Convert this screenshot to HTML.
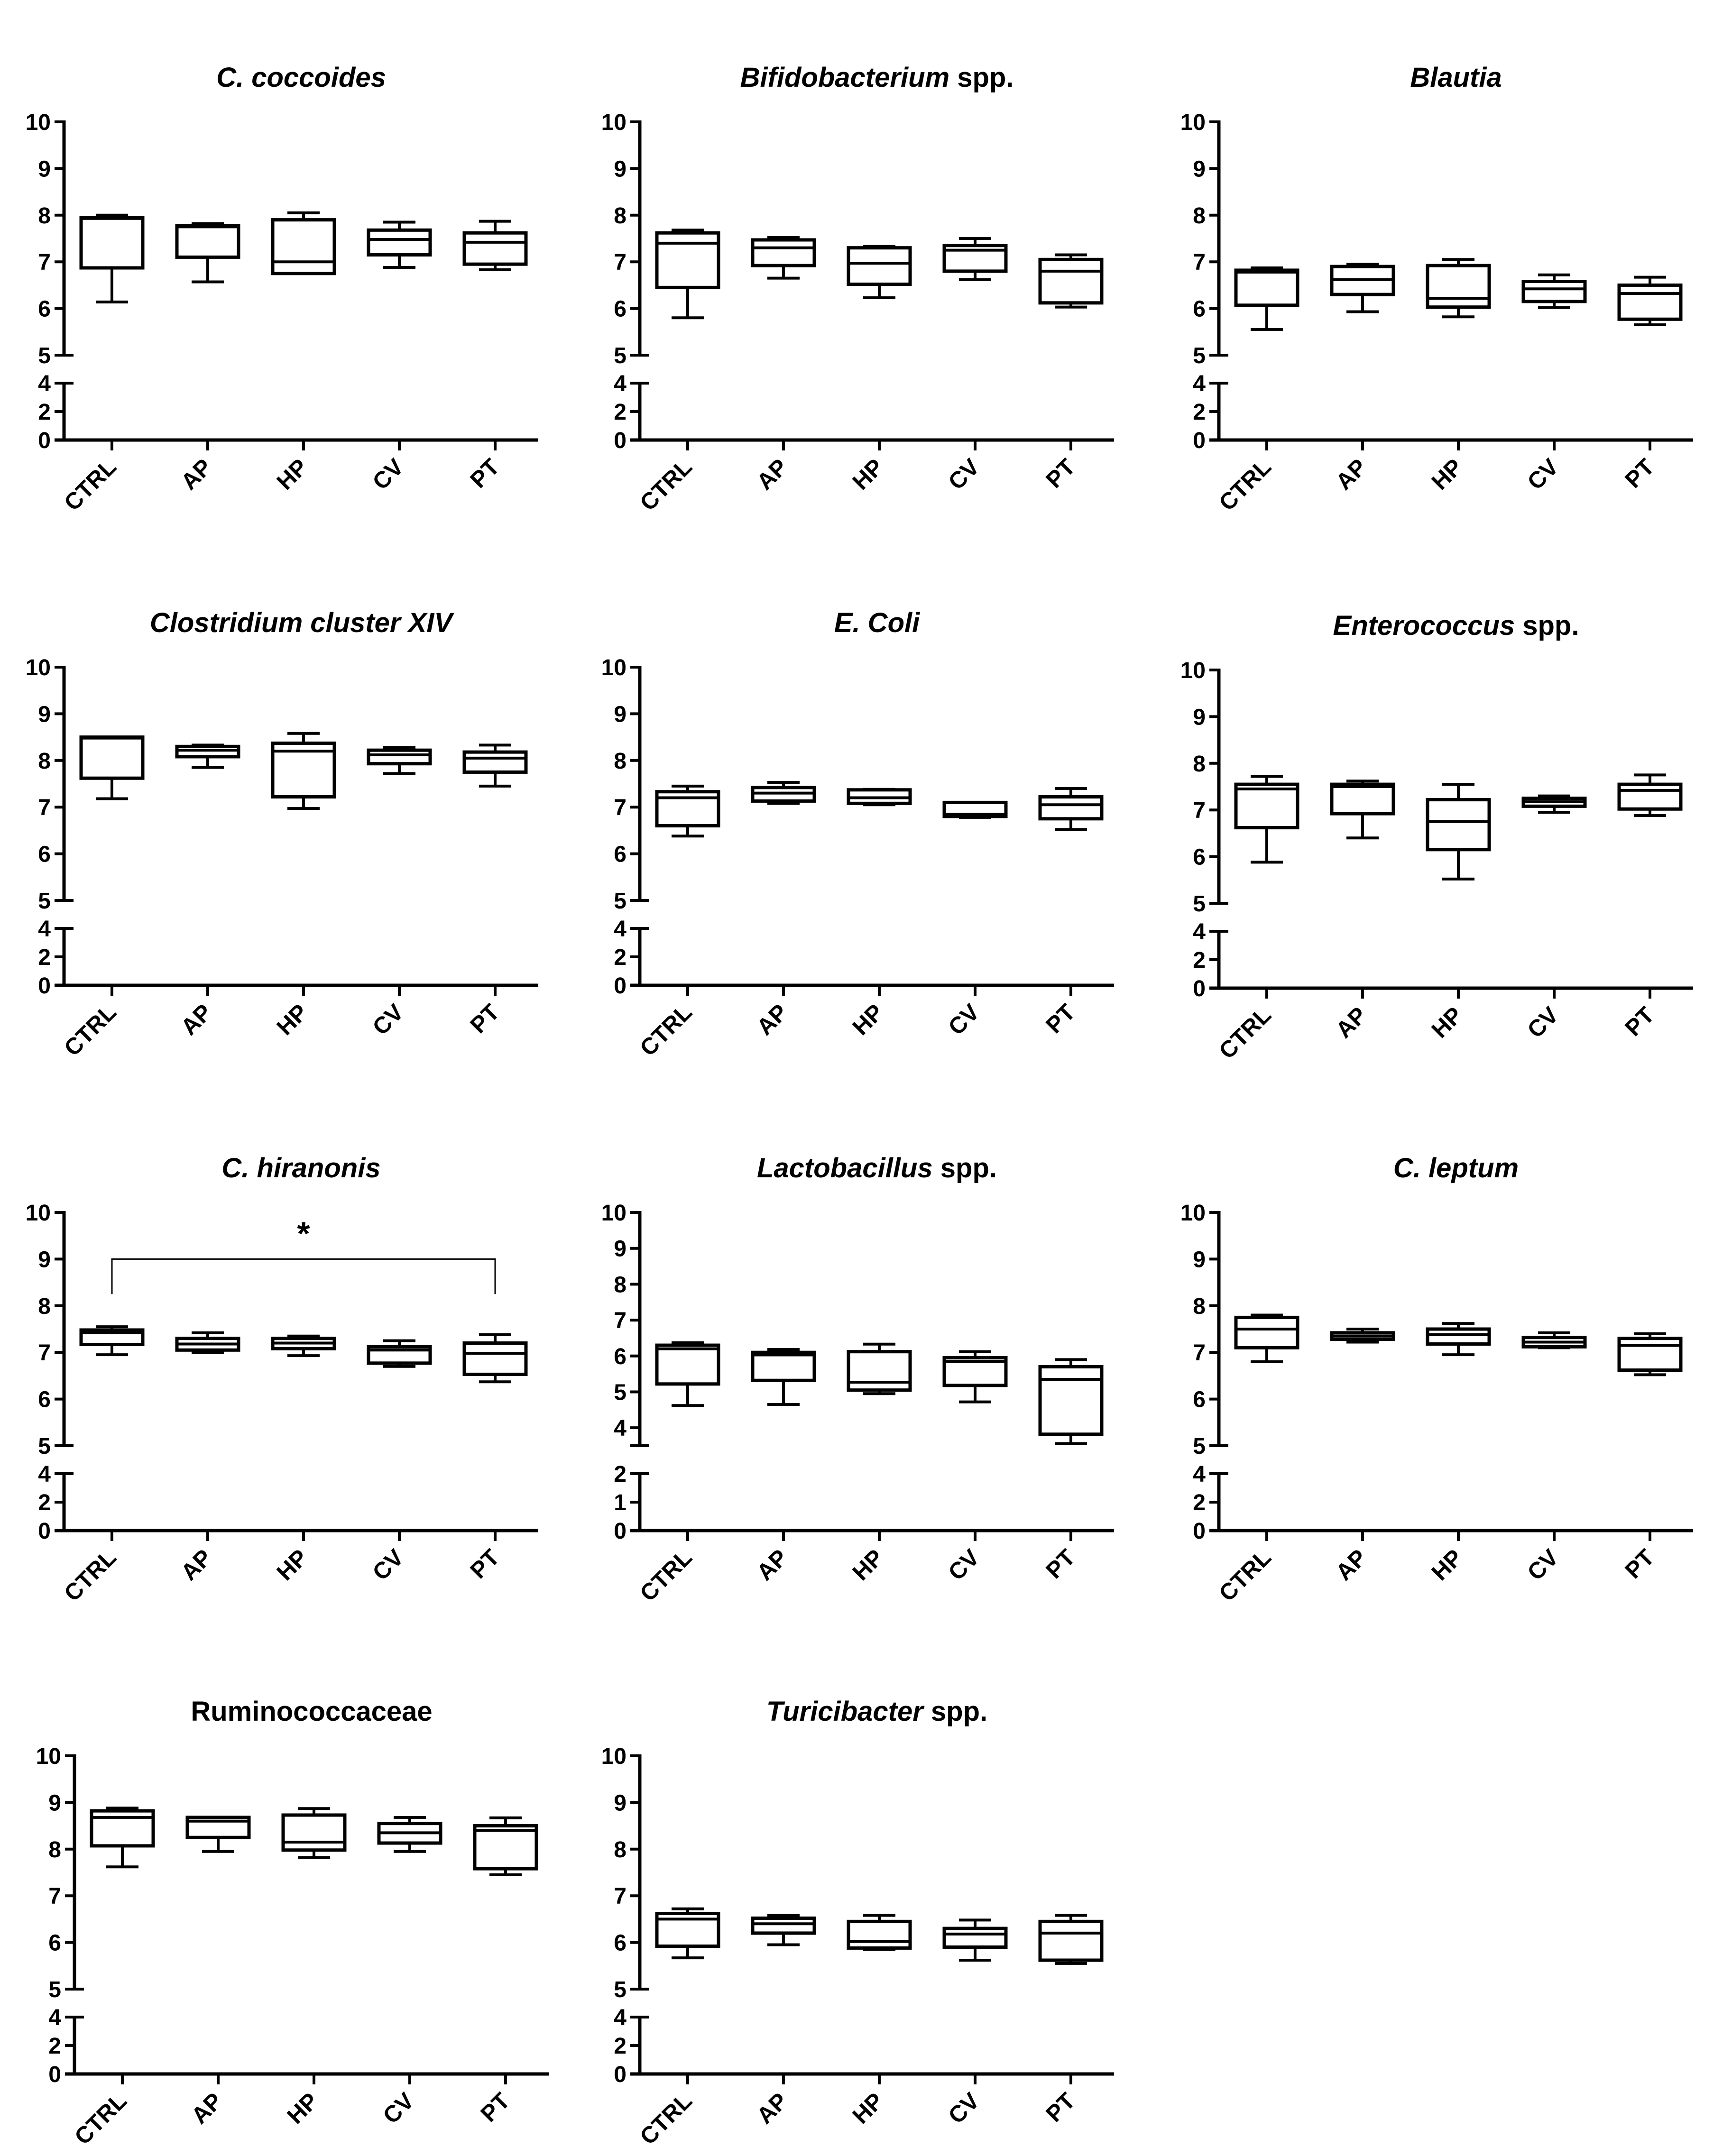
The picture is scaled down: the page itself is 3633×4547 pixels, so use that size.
<!DOCTYPE html>
<html><head><meta charset="utf-8"><style>
html,body{margin:0;padding:0;background:#fff;}
svg{display:block;font-family:"Liberation Sans",Arial,sans-serif;}
</style></head><body>
<svg id="fig" xmlns="http://www.w3.org/2000/svg" width="3633" height="4547" viewBox="0 0 3633 4547"></svg>
<script>
const groups = ["CTRL","AP","HP","CV","PT"];
const titles = [
  ["C. coccoides",""],["Bifidobacterium"," spp."],["Blautia",""],
  ["Clostridium cluster XIV",""],["E. Coli",""],["Enterococcus"," spp."],
  ["C. hiranonis",""],["Lactobacillus"," spp."],["C. leptum",""],
  ["","Ruminococcaceae"],["Turicibacter"," spp."]
];
// each: [min, q1, median, q3, max] per group
const cCoccoides = [[6.14,6.87,7.93,7.95,8.0],[6.57,7.1,7.75,7.77,7.82],[6.75,6.75,7.0,7.9,8.05],[6.88,7.15,7.48,7.68,7.85],[6.83,6.95,7.42,7.62,7.87]];
const bifido = [[5.8,6.45,7.4,7.62,7.68],[6.65,6.92,7.3,7.47,7.52],[6.23,6.52,6.97,7.3,7.33],[6.62,6.8,7.25,7.35,7.5],[6.03,6.12,6.8,7.05,7.15]];
const blautia = [[5.55,6.07,6.78,6.82,6.87],[5.93,6.3,6.62,6.9,6.95],[5.82,6.03,6.22,6.92,7.05],[6.02,6.15,6.42,6.58,6.72],[5.65,5.77,6.32,6.5,6.67]];
const clostXIV = [[7.18,7.62,8.48,8.5,8.5],[7.85,8.08,8.22,8.3,8.33],[6.97,7.22,8.2,8.37,8.58],[7.72,7.93,8.12,8.22,8.28],[7.45,7.75,8.05,8.18,8.33]];
const eColi = [[6.38,6.6,7.2,7.33,7.45],[7.08,7.13,7.3,7.42,7.53],[7.05,7.08,7.2,7.37,7.38],[6.78,6.8,6.85,7.1,7.1],[6.52,6.75,7.05,7.22,7.4]];
const entero = [[5.88,6.62,7.45,7.55,7.72],[6.4,6.92,7.5,7.55,7.62],[5.52,6.15,6.75,7.22,7.55],[6.95,7.08,7.18,7.25,7.3],[6.88,7.02,7.42,7.55,7.75]];
const hiranonis = [[6.95,7.17,7.42,7.48,7.55],[7.0,7.05,7.18,7.3,7.42],[6.93,7.08,7.2,7.3,7.35],[6.7,6.77,7.05,7.12,7.25],[6.37,6.53,6.98,7.2,7.38]];
const lacto = [[4.62,5.22,6.2,6.3,6.37],[4.65,5.32,6.03,6.1,6.18],[4.95,5.05,5.27,6.12,6.33],[4.72,5.18,5.85,5.95,6.12],[3.56,3.82,5.35,5.7,5.9]];
const leptum = [[6.8,7.1,7.5,7.75,7.8],[7.22,7.28,7.35,7.42,7.5],[6.95,7.18,7.38,7.5,7.62],[7.1,7.12,7.22,7.32,7.42],[6.52,6.62,7.15,7.3,7.4]];
const rumino = [[7.62,8.07,8.68,8.82,8.88],[7.95,8.25,8.6,8.68,8.68],[7.82,7.98,8.15,8.73,8.87],[7.95,8.13,8.35,8.55,8.68],[7.45,7.58,8.4,8.5,8.67]];
const turici = [[5.67,5.92,6.5,6.62,6.72],[5.95,6.2,6.4,6.52,6.58],[5.85,5.88,6.02,6.45,6.58],[5.62,5.9,6.18,6.3,6.48],[5.55,5.62,6.2,6.45,6.58]];
const seriesList = [cCoccoides,bifido,blautia,clostXIV,eColi,entero,hiranonis,lacto,leptum,rumino,turici];
const upperTicks = [10,9,8,7,6,5];
const lowerTicks = [4,2,0];
const lactoUpperTicks = [10,9,8,7,6,5,4];
const lactoLowerTicks = [2,1,0];
const sigPair = [0,4];
const sigLevel = 9.0;

const NS="http://www.w3.org/2000/svg";
const svg=document.getElementById('fig');
function mk(tag,attrs,parent){const e=document.createElementNS(NS,tag);for(const k in attrs)e.setAttribute(k,attrs[k]);(parent||svg).appendChild(e);return e;}

const colX=[135,1349,2570];
const rowY=[257,1407,2557,3703];
for(let p=0;p<11;p++){
  const r=Math.floor(p/3), c=p%3;
  let ax=colX[c]; if(p===9) ax=157;
  let top=rowY[r]; if(p===5) top+=6;
  const isLacto=(p===7);
  const upLo=isLacto?3.5:5, loHi=isLacto?2:4;
  const yUpBot=top+492, yLoTop=yUpBot+59, y0=yLoTop+120;
  const yU=v=>top+(10-v)*(yUpBot-top)/(10-upLo);
  const yL=v=>y0-v*(y0-yLoTop)/loHi;
  const yv=v=>v>=upLo?yU(v):yL(v);
  const g=mk('g',{});
  
  
  const t=mk('text',{x:ax+500,y:top-74,'text-anchor':'middle','font-size':58,'font-weight':'bold'},g);
  
  
  if(titles[p][0]){const s=mk('tspan',{'font-style':'italic'},t);s.textContent=titles[p][0];}
  if(titles[p][1]){const s=mk('tspan',{},t);s.textContent=titles[p][1];}
  const axU=mk('line',{x1:ax,y1:top-3,x2:ax,y2:yUpBot,stroke:'#000','stroke-width':7},g);
  
  
  const axL=mk('line',{x1:ax,y1:yLoTop,x2:ax,y2:y0+3,stroke:'#000','stroke-width':7},g);
  
  
  const xa=mk('line',{x1:ax-20,y1:y0,x2:ax+1000,y2:y0,stroke:'#000','stroke-width':7},g);
  
  
  const ut=isLacto?lactoUpperTicks:upperTicks, lt=isLacto?lactoLowerTicks:lowerTicks;
  const ticks=ut.map(v=>[v,yU(v)]).concat(lt.map(v=>[v,yL(v)]));
  if(isLacto) ticks.push([null,yUpBot]);
  ticks.forEach(([v,y])=>{
    const brk=(y===yUpBot||y===yLoTop);
    mk('line',{x1:ax-20,y1:y,x2:brk?ax+20:ax,y2:y,stroke:'#000','stroke-width':6},g);
    if(v!==null){
      const tl=mk('text',{x:ax-28,y:y+17,'text-anchor':'end','font-size':48,'font-weight':'bold'},g);
      
      
      tl.textContent=v;
    }
  });
  const data=seriesList[p];
  groups.forEach((gname,i)=>{
    const cx=ax+101+i*202;
    mk('line',{x1:cx,y1:y0,x2:cx,y2:y0+22,stroke:'#000','stroke-width':6},g);
    const lb=mk('text',{x:cx+12,y:y0+60,'text-anchor':'end','font-size':49,'font-weight':'bold',transform:`rotate(-45 ${cx+12} ${y0+60})`},g);
    
    
    lb.textContent=gname;
    const [mn,q1,md,q3,mx]=data[i];
    const bg=mk('g',{},g);
    
    
    const hw=65, cw=34;
    mk('line',{x1:cx,y1:yv(mx),x2:cx,y2:yv(q3),stroke:'#000','stroke-width':6},bg);
    mk('line',{x1:cx,y1:yv(q1),x2:cx,y2:yv(mn),stroke:'#000','stroke-width':6},bg);
    mk('line',{x1:cx-cw,y1:yv(mx),x2:cx+cw,y2:yv(mx),stroke:'#000','stroke-width':6},bg);
    mk('line',{x1:cx-cw,y1:yv(mn),x2:cx+cw,y2:yv(mn),stroke:'#000','stroke-width':6},bg);
    mk('rect',{x:cx-hw,y:yv(q3),width:2*hw,height:Math.max(1,yv(q1)-yv(q3)),fill:'#fff',stroke:'#000','stroke-width':7},bg);
    mk('line',{x1:cx-hw,y1:yv(md),x2:cx+hw,y2:yv(md),stroke:'#000','stroke-width':6},bg);
  });
  if(p===6){
    const xa1=ax+101+sigPair[0]*202, xa2=ax+101+sigPair[1]*202, ys=yU(sigLevel);
    const br=mk('path',{d:`M${xa1},${yU(8.25)} V${ys} H${xa2} V${yU(8.25)}`,fill:'none',stroke:'#000','stroke-width':3},g);
    
    
    const st=mk('text',{x:(xa1+xa2)/2,y:ys-30,'text-anchor':'middle','font-size':70,'font-weight':'bold'},g);
    
    
    st.textContent='*';
  }
}
</script>
</body></html>
